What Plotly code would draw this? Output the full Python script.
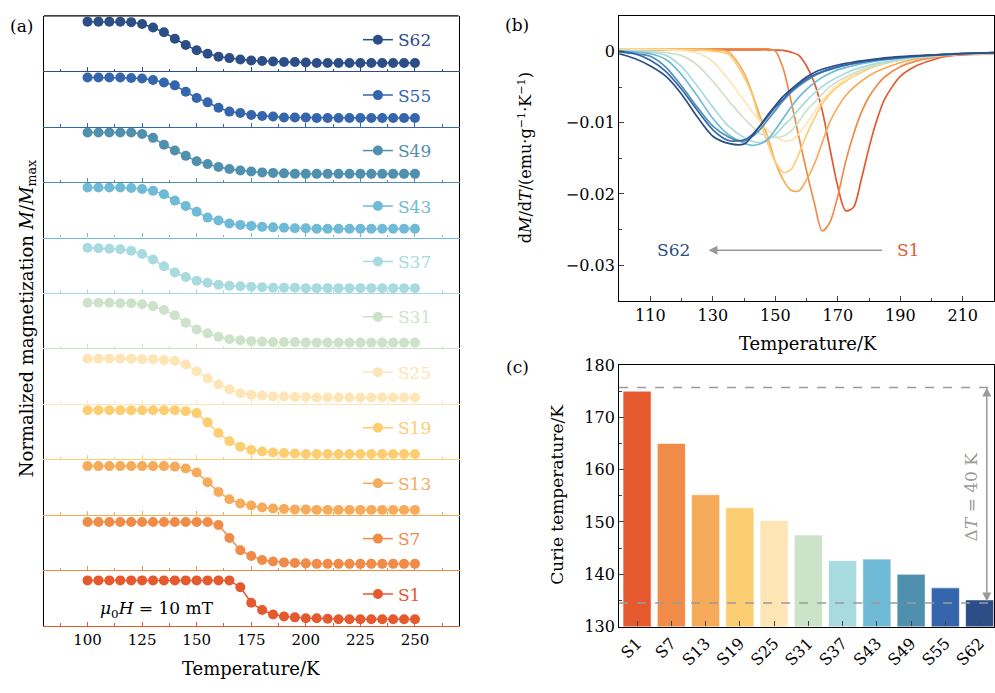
import plotly.graph_objects as go

W, H = 995, 693
SERIF = "DejaVu Serif"
GRAY = "#9a9a9a"

samples = ["S1", "S7", "S13", "S19", "S25", "S31", "S37", "S43", "S49", "S55", "S62"]
colors = ["#e5592f", "#f08b48", "#f6ab5a", "#fdcd71", "#fde5b5", "#cde3c9",
          "#a8dbdf", "#6fbad6", "#5090af", "#3566ad", "#2c4e87"]

# ---------- panel (a): normalized magnetization ----------
temperature_a = list(range(100, 255, 5))
mag_S1 = [0.93] * 14 + [0.79, 0.47, 0.32, 0.23, 0.19, 0.17, 0.15, 0.15, 0.14] + [0.13] * 8
mag_S7 = [0.99] * 12 + [0.93, 0.66, 0.41, 0.29, 0.21, 0.18, 0.16, 0.15, 0.14] + [0.13] * 10
mag_S13 = [1.00] * 8 + [0.99, 0.95, 0.87, 0.67, 0.47, 0.32, 0.23, 0.19, 0.15, 0.13, 0.12, 0.11, 0.11] + [0.10] * 10
mag_S19 = [1.01] * 9 + [0.99, 0.95, 0.76, 0.54, 0.37, 0.26, 0.19, 0.16, 0.14, 0.13, 0.12] + [0.11] * 11
mag_S25 = [0.93] * 5 + [0.92, 0.92, 0.90, 0.88, 0.81, 0.67, 0.52, 0.40, 0.30, 0.22, 0.19, 0.17, 0.15, 0.15, 0.14, 0.14] + [0.13] * 10
mag_S31 = [0.94, 0.94, 0.94, 0.93, 0.93, 0.91, 0.87, 0.79, 0.68, 0.53, 0.39, 0.31, 0.24, 0.19, 0.17, 0.15, 0.14, 0.13, 0.13, 0.13] + [0.12] * 11
mag_S37 = [0.93, 0.92, 0.91, 0.90, 0.87, 0.80, 0.69, 0.55, 0.42, 0.33, 0.25, 0.21, 0.17, 0.15, 0.14, 0.13, 0.12, 0.11, 0.11, 0.11] + [0.10] * 11
mag_S43 = [1.03] * 4 + [1.02, 1.00, 0.96, 0.89, 0.76, 0.65, 0.53, 0.41, 0.35, 0.29, 0.26, 0.24, 0.22, 0.21, 0.20, 0.19, 0.19] + [0.18] * 10
mag_S49 = [1.02] * 5 + [0.99, 0.91, 0.77, 0.65, 0.54, 0.43, 0.37, 0.31, 0.27, 0.24, 0.22, 0.20, 0.19, 0.18] + [0.17] * 12
mag_S55 = [1.01] * 4 + [1.00, 0.99, 0.96, 0.91, 0.85, 0.72, 0.59, 0.50, 0.39, 0.31, 0.28, 0.24, 0.22, 0.21, 0.19, 0.19, 0.19] + [0.18] * 10
mag_S62 = [1.02] * 4 + [1.01, 0.97, 0.90, 0.80, 0.67, 0.54, 0.43, 0.36, 0.30, 0.27, 0.24, 0.22, 0.21, 0.20, 0.19, 0.19, 0.18] + [0.17] * 10
magnetization = [mag_S1, mag_S7, mag_S13, mag_S19, mag_S25, mag_S31,
                 mag_S37, mag_S43, mag_S49, mag_S55, mag_S62]

# ---------- panel (b): dM/dT, in units of 1e-3 emu g^-1 K^-1 ----------
temperature_b = [100, 105, 110, 115, 120, 125, 130, 135, 140,
                 142.5, 145, 147.5, 150, 152.5, 155, 157.5, 160, 162.5, 165,
                 167.5, 170, 172.5, 175, 177.5, 180, 182.5, 185,
                 190, 195, 200, 205, 210, 215, 220]
dmdt_S1 = [0.23] * 9 + [0.23, 0.23, 0.23, 0.18, 0.14, -0.09, -0.55, -2.05, -4.41, -8.27, -13.7, -18.95,
                        -22.36, -21.9, -18.0, -13.5, -9.64, -6.68] + [-3.5, -2.05, -1.23, -0.68, -0.45, -0.32, -0.23]
dmdt_S7 = [0.36] * 9 + [0.36, 0.36, 0.36, 0.05, -2.36, -6.9, -11.9, -16.8, -21.3, -25.2, -23.95, -20.3,
                        -15.5, -11.7, -8.6, -6.36, -4.77, -3.59] + [-2.14, -1.36, -0.91, -0.64, -0.5, -0.41, -0.32]
dmdt_S13 = [0.36, 0.36, 0.36, 0.36, 0.36, 0.36, 0.27, -0.09, -3.05,
            -5.77, -8.95, -11.9, -15.5, -18.0, -19.5, -19.6, -18.0, -15.8, -12.8, -9.86, -7.82, -6.23, -5.09,
            -4.18, -3.41, -2.82, -2.36, -1.59, -1.05, -0.77, -0.5, -0.36, -0.27, -0.23]
dmdt_S19 = [0.36, 0.36, 0.32, 0.32, 0.27, 0.23, 0.05, -0.41, -3.6,
            -6.0, -9.64, -12.8, -15.5, -17.0, -16.6, -14.4, -11.7, -9.41, -7.36, -6.0, -4.95, -4.18, -3.5,
            -2.95, -2.41, -2.05, -1.68, -1.23, -0.82, -0.64, -0.45, -0.32, -0.27, -0.23]
dmdt_S25 = [0.27, 0.27, 0.27, 0.23, 0.14, -0.18, -1.45, -3.95, -6.91,
            -8.41, -9.77, -11.0, -11.9, -12.5, -12.5, -11.6, -10.1, -8.5, -6.91, -5.64, -4.64, -3.86, -3.27,
            -2.68, -2.23, -1.86, -1.55, -1.09, -0.82, -0.64, -0.45, -0.36, -0.27, -0.23]
dmdt_S31 = [0.14, 0.09, 0.0, -0.18, -0.59, -1.91, -4.18, -6.91, -9.41,
            -10.5, -11.5, -11.9, -12.1, -11.9, -11.2, -9.86, -8.27, -7.14, -6.0, -4.95, -4.18, -3.59, -3.05,
            -2.59, -2.23, -1.91, -1.64, -1.23, -0.86, -0.68, -0.5, -0.36, -0.27, -0.23]
dmdt_S37 = [0.14, 0.05, -0.14, -0.55, -2.14, -4.86, -7.82, -10.5, -12.1,
            -12.6, -12.8, -12.4, -11.7, -10.5, -9.41, -8.14, -6.91, -5.86, -4.95, -4.18, -3.59, -3.05, -2.59,
            -2.23, -1.95, -1.68, -1.5, -1.09, -0.82, -0.64, -0.45, -0.36, -0.27, -0.23]
dmdt_S43 = [0.05, -0.09, -0.32, -1.14, -3.27, -6.23, -9.41, -11.7, -12.9,
            -13.2, -13.0, -12.4, -11.0, -9.41, -7.82, -6.45, -5.32, -4.41, -3.64, -3.05, -2.59, -2.27, -2.0,
            -1.73, -1.55, -1.32, -1.18, -0.95, -0.73, -0.55, -0.41, -0.32, -0.23, -0.18]
dmdt_S49 = [-0.09, -0.32, -0.68, -2.23, -4.86, -7.82, -10.5, -12.0, -12.6,
            -12.0, -11.0, -9.64, -8.27, -6.91, -5.77, -4.86, -4.09, -3.41, -2.91, -2.55, -2.23, -1.95, -1.73,
            -1.55, -1.36, -1.23, -1.09, -0.82, -0.64, -0.5, -0.36, -0.27, -0.23, -0.18]
dmdt_S55 = [0.05, -0.32, -1.23, -2.82, -5.32, -8.27, -11.0, -12.5, -12.4,
            -11.7, -10.5, -9.18, -7.82, -6.68, -5.55, -4.64, -3.86, -3.27, -2.82, -2.45, -2.14, -1.91, -1.68,
            -1.5, -1.32, -1.18, -1.09, -0.86, -0.68, -0.55, -0.41, -0.32, -0.23, -0.18]
dmdt_S62 = [-0.32, -1.0, -2.05, -3.5, -6.0, -9.18, -11.9, -12.9, -13.0,
            -11.9, -10.5, -8.95, -7.59, -6.32, -5.32, -4.41, -3.59, -2.95, -2.5, -2.18, -1.91, -1.68, -1.5,
            -1.32, -1.18, -1.05, -0.91, -0.73, -0.59, -0.5, -0.41, -0.32, -0.23, -0.18]
dmdt = [dmdt_S1, dmdt_S7, dmdt_S13, dmdt_S19, dmdt_S25, dmdt_S31,
        dmdt_S37, dmdt_S43, dmdt_S49, dmdt_S55, dmdt_S62]

# ---------- panel (c): Curie temperature ----------
curie_temperature = [175.0, 165.0, 155.2, 152.7, 150.3, 147.5, 142.6, 142.9, 140.0, 137.4, 135.1]
tc_max_line, tc_min_line = 175.7, 134.5

b_yticks = [0, -0.01, -0.02, -0.03]
b_yticktext = ["0", "\u22120.01", "\u22120.02", "\u22120.03"]


def fx(px):
    return px / W


def fy(py):
    return 1 - py / H


fig = go.Figure()
layout = dict(
    width=W, height=H, margin=dict(l=0, r=0, t=0, b=0),
    paper_bgcolor="white", plot_bgcolor="white",
    font=dict(family=SERIF, size=16, color="black"),
    showlegend=True,
)

A_L, A_R, A_BOT, STRIP = 42, 458, 634, 57

for i, s in enumerate(samples):
    n = i + 1
    xa = "x" if n == 1 else f"x{n}"
    ya = "y" if n == 1 else f"y{n}"
    leg = "legend" if n == 1 else f"legend{n}"
    fig.add_trace(go.Scatter(
        x=temperature_a, y=magnetization[i], mode="lines+markers", name=s,
        xaxis=xa, yaxis=ya, legend=leg,
        line=dict(color=colors[i], width=1.5),
        marker=dict(size=10, color=colors[i]),
    ))
    bot = A_BOT - STRIP * i
    top = bot - STRIP
    layout["xaxis" if n == 1 else f"xaxis{n}"] = dict(
        domain=[fx(A_L), fx(A_R)], anchor=ya, range=[80, 270],
        tickmode="linear", tick0=0, dtick=25, ticks="inside", ticklen=4,
        tickcolor=colors[i], tickwidth=1,
        minor=dict(ticks="inside", ticklen=2.5, tickcolor=colors[i], dtick=12.5, tick0=0),
        showline=True, linecolor=colors[i], linewidth=1.2,
        showgrid=False, zeroline=False, showticklabels=(n == 1),
        tickfont=dict(family=SERIF, size=15, color="black"),
    )
    layout["yaxis" if n == 1 else f"yaxis{n}"] = dict(
        domain=[fy(bot), fy(top)], anchor=xa, range=[0, 1.14],
        showline=True, linecolor="black", linewidth=1, mirror=True,
        ticks="", showticklabels=False, showgrid=False, zeroline=False,
    )
    layout[leg] = dict(
        x=fx(357), y=fy(top + 25), xanchor="left", yanchor="middle",
        bgcolor="rgba(0,0,0,0)", borderwidth=0,
        font=dict(family=SERIF, size=17, color=colors[i]),
    )

for i, s in enumerate(samples):
    fig.add_trace(go.Scatter(
        x=temperature_b, y=[v * 1e-3 for v in dmdt[i]], mode="lines", name=s,
        xaxis="x12", yaxis="y12", showlegend=False,
        line=dict(color=colors[i], width=1.7, shape="spline", smoothing=0.8),
    ))

layout["xaxis12"] = dict(
    domain=[fx(619), 1.0], anchor="y12", range=[100, 220],
    tickmode="linear", tick0=110, dtick=20, ticks="inside", ticklen=5,
    minor=dict(ticks="inside", ticklen=3, dtick=10, tick0=100),
    showline=True, linecolor="black", linewidth=1.2, mirror=True,
    showgrid=False, zeroline=False, tickfont=dict(family=SERIF, size=16),
)
layout["yaxis12"] = dict(
    domain=[fy(300), fy(7)], anchor="x12", range=[-0.035, 0.005],
    tickmode="array", tickvals=b_yticks, ticktext=b_yticktext,
    ticks="inside", ticklen=5,
    minor=dict(ticks="inside", ticklen=3, tickvals=[0.005, -0.005, -0.015, -0.025, -0.035]),
    showline=True, linecolor="black", linewidth=1.2, mirror=True,
    showgrid=False, zeroline=False, tickfont=dict(family=SERIF, size=16),
)

fig.add_trace(go.Bar(
    x=samples, y=curie_temperature, xaxis="x13", yaxis="y13", showlegend=False,
    marker=dict(color=colors, line=dict(color="rgba(255,255,255,0.6)", width=1)),
    width=0.82,
))
layout["xaxis13"] = dict(
    domain=[fx(619), 1.0], anchor="y13", range=[-0.524, 10.42],
    type="category", ticks="inside", ticklen=5, tickangle=-45,
    showline=True, linecolor="black", linewidth=1.2, mirror=True,
    showgrid=False, zeroline=False, tickfont=dict(family=SERIF, size=16),
)
layout["yaxis13"] = dict(
    domain=[fy(635), fy(366)], anchor="x13", range=[130, 180],
    tickmode="linear", tick0=130, dtick=10, ticks="inside", ticklen=5,
    minor=dict(ticks="inside", ticklen=3, dtick=5, tick0=130),
    showline=True, linecolor="black", linewidth=1.2, mirror=True,
    showgrid=False, zeroline=False, tickfont=dict(family=SERIF, size=16),
)

shapes = [
    dict(type="line", xref="paper", yref="paper", x0=fx(A_L), x1=fx(A_R), y0=fy(7), y1=fy(7),
         line=dict(color="black", width=1.2)),
    dict(type="line", xref="x13 domain", yref="y13", x0=0, x1=1, y0=tc_max_line, y1=tc_max_line,
         line=dict(color=GRAY, width=1.5, dash="dash"), layer="above"),
    dict(type="line", xref="x13 domain", yref="y13", x0=0, x1=1, y0=tc_min_line, y1=tc_min_line,
         line=dict(color=GRAY, width=1.5, dash="dash"), layer="above"),
]


def ann(text, px, py, size=17, color="black", angle=0, xanchor="center"):
    return dict(text=text, x=fx(px), y=fy(py), xref="paper", yref="paper",
                xanchor=xanchor, yanchor="middle", showarrow=False, textangle=angle,
                font=dict(family=SERIF, size=size, color=color))


annotations = [
    ann("(a)", 20, 17, 17),
    ann("(b)", 517, 16, 17),
    ann("(c)", 517, 368, 17),
    ann("Temperature/K", 250, 678, 18),
    ann("Temperature/K", 808, 344, 18),
    ann("Normalized magnetization <i>M</i>/<i>M</i><sub>max</sub>", 26, 318, 18, angle=-90),
    ann("d<i>M</i>/d<i>T</i>/(emu·g<sup>\u22121</sup>·K<sup>\u22121</sup>)", 525, 153, 16, angle=-90),
    ann("Curie temperature/K", 557, 499, 17, angle=-90),
    ann("<i>μ</i><sub>0</sub><i>H</i> = 10 mT", 155, 617, 17),
    # panel (b): arrow drawn from the "S1" label towards lower Tc
    dict(x=128.6, y=-0.0279, ax=192.6, ay=-0.0279, xref="x12", yref="y12", axref="x12", ayref="y12",
         text="S1", showarrow=True, arrowhead=2, arrowsize=1.2, arrowwidth=1.5, arrowcolor=GRAY,
         startstandoff=14, font=dict(family=SERIF, size=17, color=colors[0])),
    dict(x=117.5, y=-0.0279, xref="x12", yref="y12", text="S62", showarrow=False,
         font=dict(family=SERIF, size=17, color=colors[-1])),
    # panel (c): double arrow spanning the Tc range
    dict(x=10.21, y=tc_max_line, ax=10.21, ay=tc_min_line, xref="x13", yref="y13",
         axref="x13", ayref="y13", text="", showarrow=True, arrowhead=2, startarrowhead=2,
         arrowside="end+start", arrowsize=1.2, arrowwidth=1.5, arrowcolor=GRAY,
         standoff=0, startstandoff=0),
    dict(x=9.75, y=154.7, xref="x13", yref="y13", text="Δ<i>T</i> = 40 K", showarrow=False,
         textangle=-90, font=dict(family=SERIF, size=17, color=GRAY)),
]

layout["shapes"] = shapes
layout["annotations"] = annotations
fig.update_layout(**layout)

fig.write_html(
    "out.html",
    config={"displayModeBar": False},
    post_script="document.body.style.margin='0';document.body.style.overflow='hidden';",
)
